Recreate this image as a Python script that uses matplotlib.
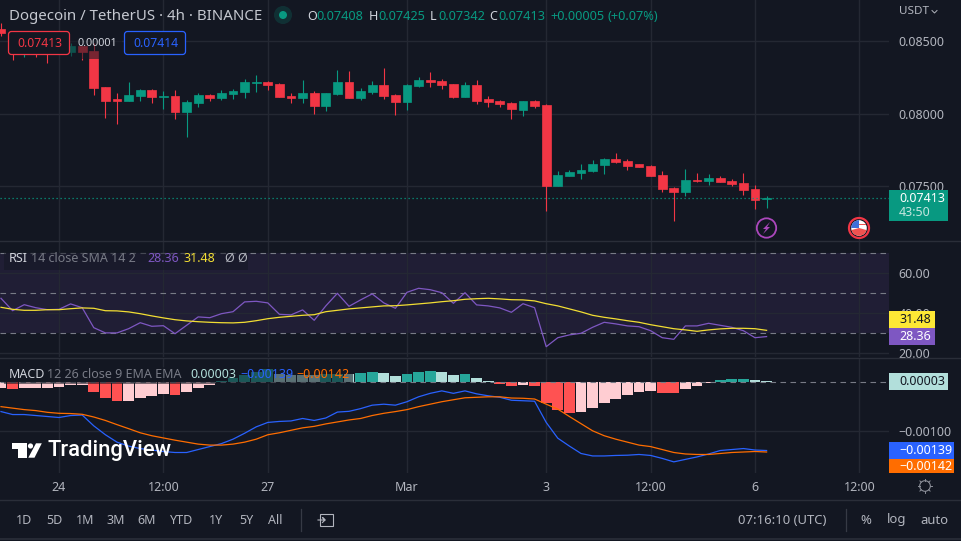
import matplotlib
matplotlib.use('Agg')
from matplotlib import pyplot as plt
from matplotlib.patches import Rectangle, Circle, FancyBboxPatch, Polygon, Wedge
import numpy as np

W, H = 961, 541
BG = '#131722'
GRID = '#242833'
TXT = '#b2b5be'
GREEN = '#089981'
RED = '#f23645'

plt.rcParams['font.family'] = ['Noto Sans', 'DejaVu Sans']

# candle index 0 is the "24" tick, one candle = 4h on the chart
candle_idx = list(range(-5, 62))

opens = [.08587, .08510, .08469, .08497, .08483, .08455, .08427, .08469, .08434, .08184,
         .08101, .08087, .08122, .08163, .08115, .08122, .08010, .08073, .08128, .08108,
         .08135, .08149, .08212, .08219, .08205, .08122, .08108, .08142, .08052, .08135,
         .08219, .08108, .08149, .08198, .08128, .08080, .08191, .08233, .08226, .08205,
         .08115, .08198, .08101, .08087, .08073, .08024, .08087, .08059, .07497, .07566,
         .07587, .07601, .07642, .07684, .07670, .07649, .07635, .07573, .07483, .07455,
         .07538, .07531, .07552, .07531, .07517, .07476, .07408]
highs = [.08628, .08538, .08524, .08524, .08497, .08497, .08490, .08469, .08490, .08184,
         .08142, .08219, .08170, .08170, .08156, .08163, .08094, .08142, .08135, .08163,
         .08170, .08240, .08267, .08226, .08212, .08142, .08233, .08156, .08142, .08302,
         .08295, .08177, .08226, .08316, .08135, .08205, .08253, .08288, .08240, .08205,
         .08219, .08233, .08122, .08094, .08080, .08087, .08094, .08066, .07601, .07608,
         .07649, .07677, .07691, .07726, .07684, .07649, .07642, .07601, .07490, .07615,
         .07587, .07580, .07566, .07545, .07587, .07503, .07425]
lows = [.08538, .08372, .08392, .08392, .08353, .08427, .08399, .08372, .08128, .07969,
        .07927, .08087, .08087, .08073, .08031, .07962, .07837, .08045, .08087, .08094,
        .08101, .08108, .08149, .08163, .08115, .08073, .08073, .07997, .08017, .08128,
        .08108, .08094, .08135, .08101, .07990, .08024, .08184, .08184, .08170, .08108,
        .08115, .08066, .08045, .08045, .07962, .07983, .08038, .07323, .07497, .07566,
        .07545, .07594, .07580, .07656, .07608, .07628, .07566, .07455, .07254, .07427,
        .07524, .07503, .07524, .07497, .07434, .07337, .07342]
closes = [.08559, .08483, .08497, .08469, .08455, .08483, .08469, .08427, .08177, .08087,
          .08087, .08128, .08163, .08115, .08122, .08010, .08080, .08128, .08108, .08142,
          .08156, .08219, .08219, .08198, .08115, .08108, .08142, .08052, .08142, .08219,
          .08108, .08156, .08198, .08122, .08080, .08198, .08233, .08219, .08198, .08115,
          .08198, .08087, .08080, .08066, .08031, .08087, .08052, .07497, .07573, .07594,
          .07608, .07649, .07684, .07663, .07635, .07628, .07566, .07476, .07455, .07538,
          .07531, .07552, .07524, .07510, .07469, .07399, .07413]

rsi = [47.5, 41.3, 44.3, 42.8, 41.8, 42.0, 44.7, 42.8, 32.8, 30.2,
       30.2, 32.3, 35.3, 33.5, 33.8, 29.8, 34.0, 38.2, 37.8, 39.8,
       40.8, 45.7, 46.0, 45.2, 39.5, 39.2, 41.7, 36.5, 43.7, 50.0,
       43.5, 46.7, 49.7, 45.2, 42.5, 50.5, 52.5, 51.8, 50.3, 45.0,
       50.3, 44.2, 43.7, 42.7, 40.5, 44.8, 42.8, 23.3, 27.8, 29.2,
       30.0, 33.0, 35.5, 34.7, 33.7, 33.3, 31.3, 27.8, 27.0, 33.7,
       33.7, 35.0, 34.0, 33.0, 31.3, 27.8, 28.36]
rsi_sma = [43.0, 42.0, 41.5, 41.5, 41.8, 41.8, 42.3, 42.7, 42.5, 41.3,
           41.2, 40.7, 39.8, 38.7, 37.7, 36.8, 36.2, 35.8, 35.5, 35.3,
           35.2, 35.5, 36.3, 37.3, 38.0, 38.5, 39.0, 39.3, 40.8, 41.5,
           42.2, 42.7, 43.2, 43.7, 43.8, 44.2, 44.7, 45.2, 45.8, 46.3,
           47.0, 47.3, 47.5, 47.2, 46.8, 46.7, 46.2, 44.8, 43.7, 42.2,
           40.7, 39.0, 38.0, 37.2, 36.3, 35.5, 34.3, 33.3, 32.3, 31.7,
           31.0, 31.7, 32.2, 32.5, 32.5, 32.3, 31.48]

# macd values in units of 0.00001
macd_line = [-60, -66, -66, -68, -70, -72, -68, -67, -89, -107,
             -122, -130, -135, -138, -141, -143, -143, -137, -131, -125,
             -116, -104, -91, -82, -80, -79, -74, -78, -73, -61,
             -59.5, -54, -47, -45, -47, -40, -30, -23, -18, -23,
             -18, -24, -28, -31, -37, -38, -39, -82, -114, -130,
             -145, -150, -150, -149, -148.5, -147, -149, -155, -162, -157,
             -152, -146, -139, -137, -135, -138, -139]
macd_signal = [-50, -53, -56, -58, -61.5, -63.5, -64, -65.5, -71, -78,
               -86.5, -94.6, -103, -109, -113.5, -118, -122, -126, -128, -128,
               -126, -122, -116, -107, -103, -98, -93, -90, -85, -81,
               -77, -74, -68, -63.5, -60, -56, -50, -45, -40, -36,
               -32, -31, -30, -30, -32.5, -33, -34.5, -45, -55, -70,
               -84.5, -99, -109, -116, -122, -128, -131, -137, -143, -146,
               -147, -147, -145, -143, -142, -141, -142]
macd_hist = [-12, -13.5, -11.5, -11.5, -11.5, -9.5, -6, -6, -20, -32,
             -38.5, -38.5, -32, -28, -24, -26, -20, -12, -6, 2.7,
             9, 15, 21, 27, 17, 15, 15, 15, 16, 17,
             16, 19, 21, 19, 13, 17, 21, 23, 21, 15,
             16, 9, 3, -3.4, -7.5, -5.5, -7.5, -42.6, -56.8, -63,
             -61, -52.7, -42.6, -34.5, -26, -20, -18, -22, -23, -14,
             -8, -2, 4, 6, 6.5, 4, 3]

tick_pos = [0, 9, 18, 30, 42, 51, 60, 69]
tick_labels = ['24', '12:00', '27', 'Mar', '3', '12:00', '6', '12:00']
price_ticks = [0.085, 0.08, 0.075]
rsi_ticks = [60, 40, 20]
rsi_levels = [70, 50, 30]
macd_ticks = [-100]

toolbar_ranges = ['1D', '5D', '1M', '3M', '6M', 'YTD', '1Y', '5Y', 'All']


def panel(fig, y0, y1, x1=889):
    # axes placed by pixel box, y counted from the top of the image
    ax = fig.add_axes([0, 1 - y1 / H, x1 / W, (y1 - y0) / H])
    ax.set_facecolor('none')
    for s in ax.spines.values():
        s.set_visible(False)
    ax.set_xlim(-59 / 11.6, (889 - 59) / 11.6)
    ax.set_xticks(tick_pos)
    ax.yaxis.tick_right()
    ax.tick_params(length=0, labelsize=9, labelcolor=TXT, pad=7)
    ax.tick_params(axis='x', labelbottom=False)
    ax.grid(True, color=GRID, lw=1.0)
    ax.set_axisbelow(True)
    return ax


fig = plt.figure(figsize=(W / 100, H / 100), dpi=100, facecolor=BG)

# price panel
ax1 = panel(fig, 0, 241)
ax1.set_ylim(0.07115, 0.08788)
ax1.set_yticks(price_ticks)
ax1.set_yticklabels(['%.5f' % p for p in price_ticks])
colors = [GREEN if c >= o else RED for o, c in zip(opens, closes)]
ax1.vlines(candle_idx, lows, highs, colors=colors, lw=0.8, zorder=3)
# thin edge keeps the doji bodies visible
ax1.bar(candle_idx, np.abs(np.array(closes) - np.array(opens)), bottom=np.minimum(opens, closes),
        width=0.75, color=colors, edgecolor=colors, zorder=4, linewidth=0.5)
ax1.axhline(closes[-1], color=GREEN, lw=0.9, ls=(0, (1, 2.2)), zorder=5)

# rsi panel
ax2 = panel(fig, 242, 357)
ax2.set_ylim(18.15, 75.65)
ax2.set_yticks(rsi_ticks)
ax2.set_yticklabels(['%.2f' % v for v in rsi_ticks])
ax2.axhspan(rsi_levels[2], rsi_levels[0], color='#7e57c2', alpha=0.12, lw=0, zorder=0)
for lvl in rsi_levels:
    ax2.axhline(lvl, color='#787b86', lw=0.8, ls=(0, (5, 4)), zorder=1)
ax2.plot(candle_idx, rsi, color='#7e57c2', lw=0.9, zorder=3)
ax2.plot(candle_idx, rsi_sma, color='#f2de33', lw=0.9, zorder=4)

# macd panel
ax3 = panel(fig, 358, 473)
ax3.set_ylim(-184.6, 48.7)
ax3.set_yticks(macd_ticks)
ax3.set_yticklabels(['\u22120.00100'])
hist_cols = []
prev = None
for h in macd_hist:
    rising = prev is None or h > prev
    if h >= 0:
        hist_cols.append('#26a69a' if rising else '#b2dfdb')
    else:
        hist_cols.append('#ffcdd2' if (prev is None or h >= prev) else '#ff5252')
    prev = h
ax3.bar(candle_idx, macd_hist, width=0.92, color=hist_cols, linewidth=0, zorder=3)
ax3.axhline(0, color='#787b86', lw=0.8, ls=(0, (5, 4)), zorder=4)
ax3.plot(candle_idx, macd_signal, color='#ff6d00', lw=0.9, zorder=5)
ax3.plot(candle_idx, macd_line, color='#2962ff', lw=0.9, zorder=4)
ax3.set_xticks(tick_pos)
ax3.set_xticklabels(tick_labels)
ax3.tick_params(axis='x', labelbottom=True, pad=5.5)
for lab in ax3.get_xticklabels():
    if lab.get_text() == 'Mar':
        lab.set_fontweight('bold')

# overlay in image pixels for the tradingview furniture
ov = fig.add_axes([0, 0, 1, 1], zorder=10)
ov.set_xlim(0, W)
ov.set_ylim(H, 0)
ov.axis('off')


def txt(x, y, s, color=TXT, size=9, ha='left', weight='normal', **kw):
    ov.text(x, y, s, color=color, fontsize=size, ha=ha, va='center', fontweight=weight, **kw)


def box(x0, y0, x1, y1, color, alpha=1.0, z=1):
    ov.add_patch(Rectangle((x0, y0), x1 - x0, y1 - y0, facecolor=color, alpha=alpha, lw=0, zorder=z))


# separators
for y in (241, 357.5, 500):
    ov.plot([0, W], [y, y], color='#2a2e39', lw=1.0)
ov.plot([0, W], [539, 539], color='#2a2e39', lw=1.2)
ov.plot([301, 301], [509, 531], color='#363a45', lw=0.9)
ov.plot([846, 846], [509, 531], color='#363a45', lw=0.9)

# header
txt(9, 16, 'Dogecoin / TetherUS \u00b7 4h \u00b7 BINANCE', '#c5c8d0', 10.8)
ov.add_patch(Circle((283, 15), 9, color=GREEN, alpha=0.2, lw=0))
ov.add_patch(Circle((283, 15), 4, color=GREEN, lw=0))
for x, letter, xv, val in [(307, 'O', 316, '0.07408'), (369, 'H', 378, '0.07425'),
                           (430, 'L', 438, '0.07342'), (489, 'C', 498, '0.07413')]:
    txt(x, 16, letter, '#d1d4dc', 9)
    txt(xv, 16, val, GREEN, 9.2)
txt(550, 16, '+0.00005', GREEN, 9.2)
txt(607, 16, '(+0.07%)', GREEN, 9.2)
txt(899, 11, 'USDT', TXT, 8.4)
ov.plot([932, 934.5, 937], [10.5, 13, 10.5], color=TXT, lw=0.7)

# order labels on the chart
box(70, 33, 122, 59, BG, 0.55)
txt(78, 43, '0.00001', '#d1d4dc', 7.8)
for x0, col, s in [(8.5, RED, '0.07413'), (124.5, '#2962ff', '0.07414')]:
    ov.add_patch(FancyBboxPatch((x0, 31.5), 61, 23, boxstyle='round,pad=0,rounding_size=3',
                                facecolor=BG, edgecolor=col, lw=0.9, zorder=2))
    ov.text(x0 + 31, 43.5, s, color=col, fontsize=8.8, ha='center', va='center', zorder=3)

# price tag
box(889, 190, 948, 221, GREEN, z=2)
ov.text(899, 199, '0.07413', color='white', fontsize=9, fontweight='bold', va='center', zorder=3)
ov.text(899, 212.5, '43:50', color='#c4e6df', fontsize=9, va='center', zorder=3)

# event icons
ov.add_patch(Circle((766.5, 228), 9.7, facecolor='none', edgecolor='#ab47bc', lw=1.3))
ov.add_patch(Polygon([(770, 222), (763, 229), (766, 229), (763, 234), (770, 227), (767, 227)],
                     color='#ab47bc', lw=0))
ov.add_patch(Circle((859, 228), 10, facecolor='none', edgecolor=RED, lw=1.6))
ov.add_patch(Circle((859, 228), 7.8, facecolor='white', lw=0))
ov.add_patch(Wedge((859, 228), 7.8, 15, 165, facecolor='#ef5350', lw=0))
ov.add_patch(Rectangle((859, 223.5), 6.5, 1.6, facecolor='#ef5350', lw=0))
ov.add_patch(Wedge((859, 228), 7.8, 180, 270, facecolor='#3f6fd8', lw=0))

# rsi legend and tags
box(4, 253, 248, 270, BG, 0.5)
txt(9, 258, 'RSI', '#d1d4dc', 9, weight='bold')
txt(31, 258, '14 close SMA 14 2', '#787b86', 9)
txt(147, 258, '28.36', '#7e57c2', 9)
txt(184, 258, '31.48', '#f2de33', 9)
txt(224, 258, '\u00d8', '#b2b5be', 9)
txt(237, 258, '\u00d8', '#b2b5be', 9)
box(889, 311, 935, 328, '#fde835', z=2)
box(889, 328, 935, 345, '#7e57c2', z=2)
ov.text(899, 319.5, '31.48', color='#131722', fontsize=9, va='center', zorder=3)
ov.text(899, 336.5, '28.36', color='white', fontsize=9, va='center', fontweight='bold', zorder=3)

# macd legend and tags
box(4, 367, 353, 384, BG, 0.55)
txt(9, 375, 'MACD', '#d1d4dc', 9, weight='bold')
txt(47, 375, '12 26 close 9 EMA EMA', '#787b86', 9)
txt(190, 375, '0.00003', '#b2dfdb', 9)
txt(240, 375, '\u22120.00139', '#2962ff', 9)
txt(296, 375, '\u22120.00142', '#ff6d00', 9)
box(889, 373, 948, 390, '#b2dfdb', z=2)
ov.text(899, 381.5, '0.00003', color='#131722', fontsize=9, va='center', zorder=3)
box(889, 442, 954, 459, '#2962ff', z=2)
box(889, 459, 954, 472.5, '#ff6d00', z=2)
ov.text(899, 450.5, '\u22120.00139', color='white', fontsize=9, va='center', zorder=3)
ov.text(899, 466.5, '\u22120.00142', color='white', fontsize=9, va='center', zorder=3)

# logo
ov.add_patch(Polygon([(12, 443.3), (27, 443.3), (27, 457.7), (18, 457.7), (18, 448.5), (12, 448.5)],
                     color='white', lw=0))
ov.add_patch(Circle((30.5, 446), 2.6, color='white', lw=0))
ov.add_patch(Polygon([(36, 443.3), (41.8, 443.3), (34.5, 457.7), (28.3, 457.7)], color='white', lw=0))
ov.text(48, 450.5, 'TradingView', color='white', fontsize=15.8, va='center', family='Roboto', fontweight='medium')

# gear
ov.add_patch(Circle((925, 486), 5.3, facecolor='none', edgecolor='#8b8e98', lw=0.8))
for a in np.deg2rad(np.arange(0, 360, 45)):
    ov.plot([925 + 5.3 * np.cos(a), 925 + 7.2 * np.cos(a)], [486 + 5.3 * np.sin(a), 486 + 7.2 * np.sin(a)],
            color='#8b8e98', lw=0.7)

# bottom toolbar
for x, s in zip([24, 54, 85, 116, 147, 182, 216, 246, 275], toolbar_ranges):
    txt(x, 520, s, '#b2b5be', 9, ha='center')
ov.add_patch(Rectangle((320, 514), 13, 11.5, facecolor='none', edgecolor=TXT, lw=0.8))
ov.plot([318, 325, 322.5, 325, 322.5], [520, 520, 517.5, 520, 522.5], color=TXT, lw=0.8)
txt(782.5, 520, '07:16:10 (UTC)', '#b2b5be', 9.4, ha='center')
txt(866, 520, '%', '#b2b5be', 9.4, ha='center')
txt(897, 520, 'log', '#b2b5be', 9.4, ha='center')
txt(934, 520, 'auto', '#b2b5be', 9.4, ha='center')

fig.savefig('out.png', dpi=100, facecolor=BG)
